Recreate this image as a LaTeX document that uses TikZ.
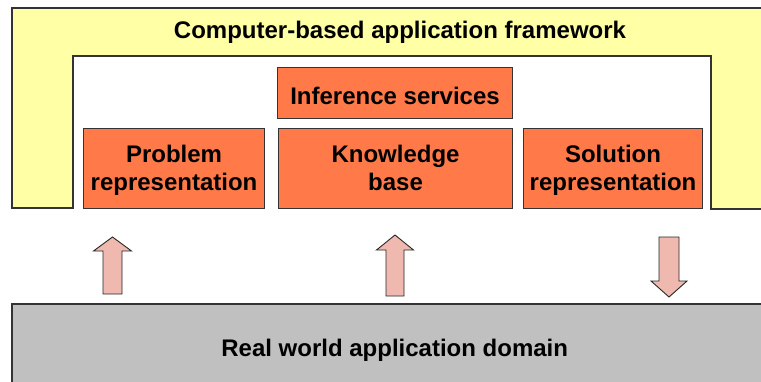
\documentclass[tikz,border=0pt]{standalone}
\usepackage{fontspec}
\setmainfont{Liberation Sans}
\newcommand\linestrut[2]{\vrule width 0pt height #1pt depth #2pt\relax}
\begin{document}
\begin{tikzpicture}[x=1pt,y=-1pt,
  edge/.style={draw=black!80,line width=1.1pt},
  frame/.style={edge,fill=yellowfill},
  block/.style={edge,fill=orangefill,font=\bfseries\fontsize{24}{28.3}\selectfont,
    align=center,inner sep=0pt,anchor=north west},
  flowarrow/.style={draw=black!85,line width=0.9pt,fill=arrowfill,line join=miter},
  label/.style={font=\bfseries\fontsize{24}{28}\selectfont,inner sep=0pt,anchor=base}]
\definecolor{yellowfill}{RGB}{255,255,166}
\definecolor{orangefill}{RGB}{255,122,72}
\definecolor{arrowfill}{RGB}{240,185,176}
\definecolor{domainfill}{RGB}{192,192,192}
\useasboundingbox (0,0) rectangle (761,381);
\clip (0,0) rectangle (761,381);

% block arrow: centre x, half shaft width, half head width, tail y, neck y, tip y
\newcommand\blockarrow[6]{%
  \draw[flowarrow] (#1-#2,#4) -- (#1-#2,#5) -- (#1-#3,#5) -- (#1,#6)
    -- (#1+#3,#5) -- (#1+#2,#5) -- (#1+#2,#4) -- cycle;}

% application framework (open-bottom frame)
\draw[frame] (12,208) -- (12,8) -- (766,8) -- (766,209) -- (711,209)
  -- (711,56) -- (73,56) -- (73,208) -- cycle;
\node[label] (framework) at (400,38.3) {Computer-based application framework};

% components
\node[block,minimum width=181pt,minimum height=80pt] (problem) at (83,128)
  {\linestrut{22}{6}Problem\\\linestrut{22}{6}representation};
\node[block,minimum width=235pt,minimum height=51pt] (inference) at (277,67)
  {\linestrut{25.5}{2.5}Inference services};
\node[block,minimum width=234pt,minimum height=80pt] (knowledge) at (278,128)
  {\linestrut{22}{6}Knowledge\\\linestrut{22}{6}base};
\node[block,minimum width=179pt,minimum height=80pt] (solution) at (523,128)
  {\linestrut{22}{6}Solution\\\linestrut{22}{6}representation};

% real world domain
\draw[edge,fill=domainfill] (12,390) -- (12,304) -- (770,304) -- (770,390) -- cycle;
\node[label] (domain) at (394.7,356) {Real world application domain};

% information flow
\blockarrow{112.5}{9.5}{19}{294}{251}{237}
\blockarrow{395}{9}{18.5}{296}{250}{235}
\blockarrow{669}{10}{18}{237}{281}{297}
\end{tikzpicture}
\end{document}
